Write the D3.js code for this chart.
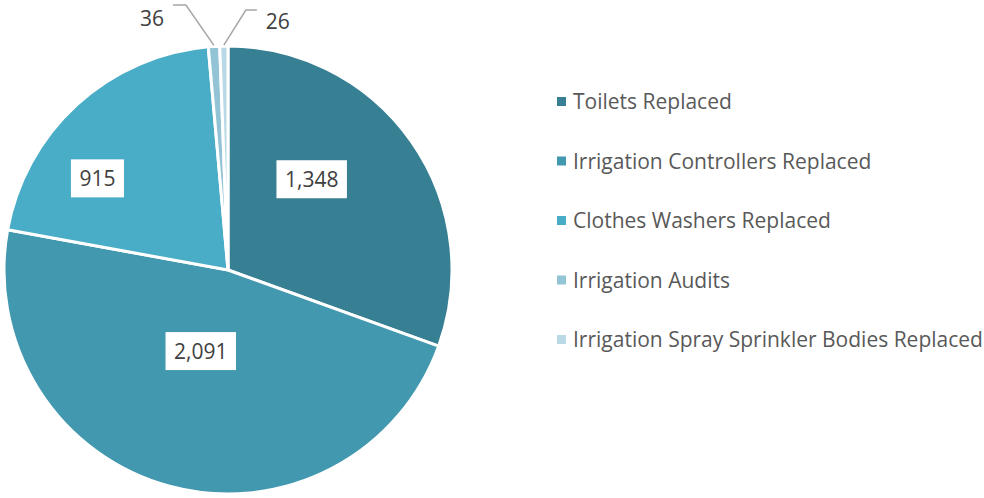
<!DOCTYPE html>
<html>
<head>
<meta charset="utf-8">
<script src="https://cdn.jsdelivr.net/npm/d3@7"></script>
<style>
  body { margin: 0; background: #fff; }
  text { font-family: "Open Sans", Lato, sans-serif; }
</style>
</head>
<body>
<div class="pie"></div>
<script>
var categories = ['Toilets Replaced', 'Irrigation Controllers Replaced', 'Clothes Washers Replaced',
                  'Irrigation Audits', 'Irrigation Spray Sprinkler Bodies Replaced'];
var counts = [1348, 2091, 915, 36, 26];
var colors = ['#377f92', '#4298af', '#4aadc7', '#93c4d6', '#b9d9e6'];

var width = 984,
    height = 498,
    radius = 224,
    cx = 228,
    cy = 270;

var data = categories.map(function(c, i) {
    return {name: c, count: counts[i], color: colors[i]};
});

var fmt = d3.format(',');

var pie = d3.pie()
    .sort(null)
    .value(function(d) { return d.count; });

var arc = d3.arc()
    .outerRadius(radius)
    .innerRadius(0);

var labelArc = d3.arc()
    .outerRadius(radius * 0.62)
    .innerRadius(radius * 0.62);

var svg = d3.select('.pie').append('svg')
    .attr('width', width)
    .attr('height', height);

var g = svg.append('g')
    .attr('transform', 'translate(' + cx + ',' + cy + ')');

var arcs = pie(data);

g.selectAll('path')
    .data(arcs)
    .enter().append('path')
    .attr('d', arc)
    .attr('fill', function(d) { return d.data.color; })
    .attr('stroke', '#fff')
    .attr('stroke-width', 3);

// labels inside the big slices, white boxes (excel "best fit" spots)
var big = arcs.filter(function(d) { return d.data.count > 100; });
var nudge = [[-30, -11], [9, -53], [-37, 11]];
var lbl = g.selectAll('.lbl')
    .data(big)
    .enter().append('g')
    .attr('class', 'lbl')
    .attr('transform', function(d, i) {
        var c = labelArc.centroid(d);
        return 'translate(' + (c[0] + nudge[i][0]) + ',' + (c[1] + nudge[i][1]) + ')';
    });

lbl.append('text')
    .attr('text-anchor', 'middle')
    .attr('dy', '0.36em')
    .attr('font-size', 21)
    .attr('fill', '#404040')
    .text(function(d) { return fmt(d.data.count); });

lbl.each(function() {
    var t = d3.select(this).select('text');
    var b = t.node().getBBox();
    d3.select(this).insert('rect', 'text')
        .attr('x', b.x - 8.5)
        .attr('y', -19)
        .attr('width', b.width + 17)
        .attr('height', 38)
        .attr('fill', '#fff');
});

// small slices: labels outside with leader lines
var small = arcs.filter(function(d) { return d.data.count <= 100; });
var outerArc = d3.arc().innerRadius(radius + 1).outerRadius(radius + 1);
small.forEach(function(d, i) {
    var p0 = outerArc.centroid(d);
    var left = i === 0;
    var p1 = left ? [p0[0] - 28, -265] : [p0[0] + 22, -260];
    var p2 = left ? [p1[0] - 13, p1[1]] : [p1[0] + 11, p1[1]];
    g.append('polyline')
        .attr('points', [p0, p1, p2].map(function(p) { return p.join(','); }).join(' '))
        .attr('fill', 'none')
        .attr('stroke', '#a6a6a6')
        .attr('stroke-width', 1.5);
    g.append('text')
        .attr('x', left ? p2[0] - 9 : p2[0] + 9)
        .attr('y', p2[1] + (left ? 21 : 19))
        .attr('text-anchor', left ? 'end' : 'start')
        .attr('font-size', 21)
        .attr('fill', '#404040')
        .text(fmt(d.data.count));
});

// legend
var legend = svg.append('g')
    .attr('transform', 'translate(557,102)');

var item = legend.selectAll('.item')
    .data(data)
    .enter().append('g')
    .attr('class', 'item')
    .attr('transform', function(d, i) { return 'translate(0,' + (i * 59.5) + ')'; });

item.append('rect')
    .attr('x', 0)
    .attr('y', -5)
    .attr('width', 9)
    .attr('height', 9)
    .attr('fill', function(d) { return d.color; });

item.append('text')
    .attr('x', 16)
    .attr('dy', '0.35em')
    .attr('font-size', 21)
    .attr('fill', '#595959')
    .text(function(d) { return d.name; });
</script>
</body>
</html>
